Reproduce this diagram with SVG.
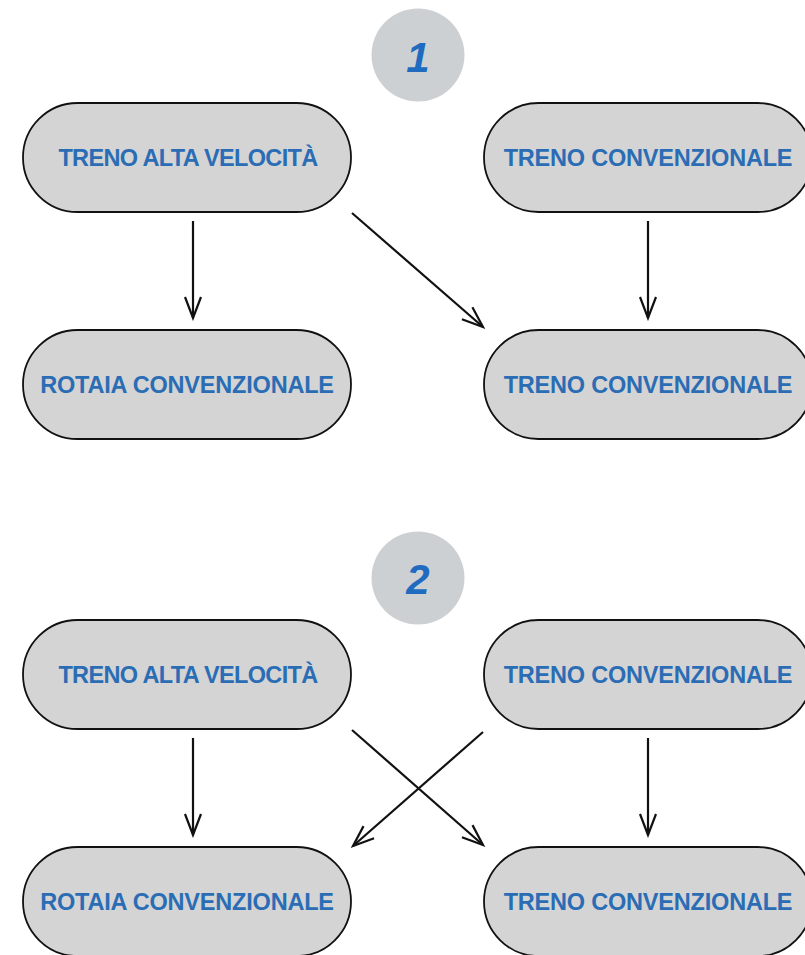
<svg xmlns="http://www.w3.org/2000/svg" width="805" height="955" viewBox="0 0 805 955">
  <style>
    .node rect { fill: #d4d4d4; stroke: #111111; stroke-width: 1.8; }
    .node text { font-family: "Liberation Sans", Arial, sans-serif; font-weight: bold; font-size: 23.5px; fill: #2a6db5; text-anchor: middle; letter-spacing: -0.2px; }
    .node text.tight { letter-spacing: -0.65px; }
    .badge circle { fill: #ccd0d3; }
    .badge text { font-family: "Liberation Sans", Arial, sans-serif; font-weight: bold; font-style: italic; font-size: 42px; fill: #1f6bbf; text-anchor: middle; }
    .edges line { stroke: #111111; stroke-width: 2.2; marker-end: url(#arrow); }
  </style>
  <defs>
    <marker id="arrow" markerUnits="userSpaceOnUse" viewBox="-23 -11 26 22" markerWidth="26" markerHeight="22" refX="0" refY="0" orient="auto">
      <path d="M-21,-8 L0,0 L-21,8" fill="none" stroke="#111111" stroke-width="2.2" stroke-linejoin="miter"/>
    </marker>
  </defs>

  <rect width="805" height="955" fill="#ffffff"/>

  <!-- scenario 1 -->
  <g id="badge-1" class="badge">
    <circle cx="418" cy="55" r="46.5"/>
    <text x="418" y="72">1</text>
  </g>
  <g id="n1-hs-train" class="node">
    <rect x="23" y="103" width="328" height="109" rx="54.5"/>
    <text class="tight" x="188" y="166">TRENO ALTA VELOCITÀ</text>
  </g>
  <g id="n1-conv-train-top" class="node">
    <rect x="484" y="103" width="328" height="109" rx="54.5"/>
    <text x="648" y="166">TRENO CONVENZIONALE</text>
  </g>
  <g id="n1-conv-rail" class="node">
    <rect x="23" y="330" width="328" height="109" rx="54.5"/>
    <text x="187" y="393">ROTAIA CONVENZIONALE</text>
  </g>
  <g id="n1-conv-train-bottom" class="node">
    <rect x="484" y="330" width="328" height="109" rx="54.5"/>
    <text x="648" y="393">TRENO CONVENZIONALE</text>
  </g>

  <!-- scenario 2 -->
  <g id="badge-2" class="badge">
    <circle cx="418" cy="578" r="46.5"/>
    <text x="418" y="594">2</text>
  </g>
  <g id="n2-hs-train" class="node">
    <rect x="23" y="620" width="328" height="109" rx="54.5"/>
    <text class="tight" x="188" y="683">TRENO ALTA VELOCITÀ</text>
  </g>
  <g id="n2-conv-train-top" class="node">
    <rect x="484" y="620" width="328" height="109" rx="54.5"/>
    <text x="648" y="683">TRENO CONVENZIONALE</text>
  </g>
  <g id="n2-conv-rail" class="node">
    <rect x="23" y="847" width="328" height="109" rx="54.5"/>
    <text x="187" y="910">ROTAIA CONVENZIONALE</text>
  </g>
  <g id="n2-conv-train-bottom" class="node">
    <rect x="484" y="847" width="328" height="109" rx="54.5"/>
    <text x="648" y="910">TRENO CONVENZIONALE</text>
  </g>

  <!-- connectors -->
  <g id="edges" class="edges">
    <line x1="193" y1="221" x2="193" y2="318"/>
    <line x1="352" y1="213" x2="483" y2="327"/>
    <line x1="648" y1="221" x2="648" y2="318"/>

    <line x1="193" y1="738" x2="193" y2="835"/>
    <line x1="352" y1="730" x2="483" y2="845"/>
    <line x1="483" y1="732" x2="353" y2="846"/>
    <line x1="648" y1="738" x2="648" y2="835"/>
  </g>
</svg>
